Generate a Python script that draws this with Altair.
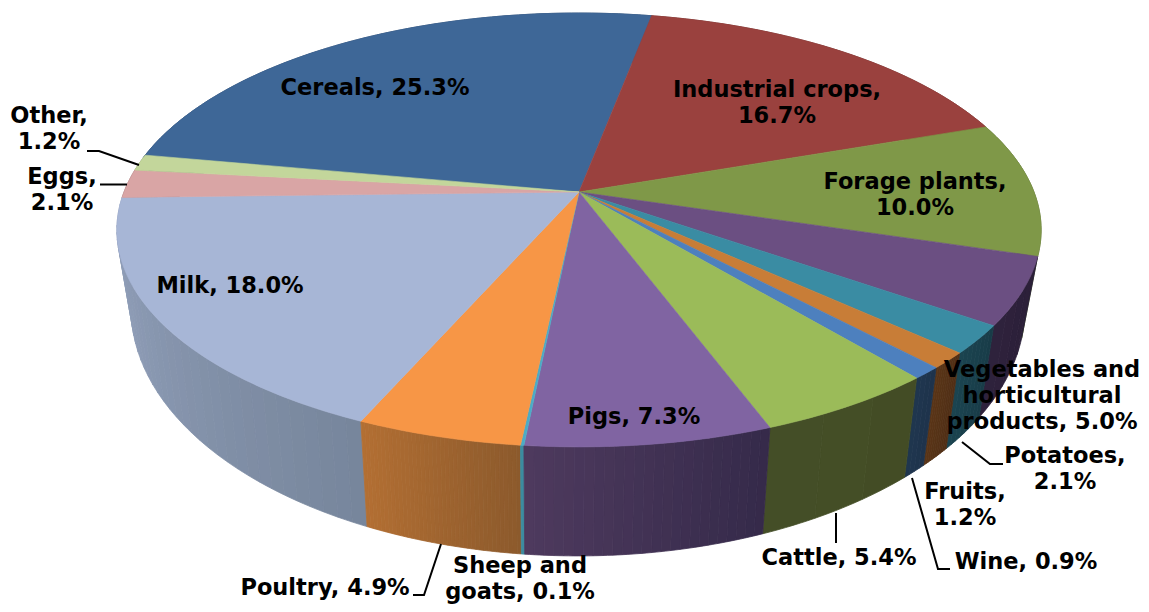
import math
import altair as alt

categories = ["Cereals", "Industrial crops", "Forage plants", "Vegetables and horticultural products",
              "Potatoes", "Fruits", "Wine", "Cattle", "Pigs", "Sheep and goats", "Poultry", "Milk", "Eggs", "Other"]
values = [25.3, 16.7, 10.0, 5.0, 2.1, 1.2, 0.9, 5.4, 7.3, 0.1, 4.9, 18.0, 2.1, 1.2]
top_colors = ["#3e6797", "#9a413e", "#7f9848", "#6b4f82", "#3a8ca3", "#c87d37", "#4d80be",
              "#9bbb59", "#8064a2", "#4bacc6", "#f79646", "#a7b6d6", "#d9a5a5", "#c3d69b"]
wall_left = ["#2c4a6e", "#6e2e2c", "#5a6c33", "#2f223c", "#1b4450", "#5a3517", "#1f364f",
             "#444f27", "#4e3a5e", "#3c8ca0", "#b36f33", "#96a4bf", "#9a7474", "#8a9a6e"]
wall_right = ["#2c4a6e", "#6e2e2c", "#5a6c33", "#2a1f38", "#183c48", "#4f2e15", "#1e334b",
              "#434c25", "#352a4a", "#3c8ca0", "#8c5a2c", "#77869c", "#9a7474", "#8a9a6e"]

label_texts = ["Cereals, 25.3%", "Industrial crops,\n16.7%", "Forage plants,\n10.0%",
               "Vegetables and\nhorticultural\nproducts, 5.0%", "Potatoes,\n2.1%", "Fruits,\n1.2%",
               "Wine, 0.9%", "Cattle, 5.4%", "Pigs, 7.3%", "Sheep and\ngoats, 0.1%",
               "Poultry, 4.9%", "Milk, 18.0%", "Eggs,\n2.1%", "Other,\n1.2%"]
label_x = [375, 777, 915, 1042, 1065, 965, 1026, 839, 634, 520, 325, 230, 62, 49]
label_y = [88, 90, 182, 370, 456, 492, 562, 558, 417, 566, 588, 286, 177, 116]

leader_names = ["Other", "Other", "Other", "Eggs", "Eggs", "Poultry", "Poultry", "Poultry",
                "Potatoes", "Potatoes", "Potatoes", "Wine", "Wine", "Wine", "Cattle", "Cattle"]
leader_x = [87, 99, 139, 100, 127, 413, 424, 441, 1003, 990, 962, 950, 938, 912, 836, 836]
leader_y = [151, 151, 165, 184.5, 184.5, 595, 595, 544, 464, 464, 442, 569, 569, 478, 513, 543]

START_DEG = -80.3
K = 0.175
TOP = (579, 192, 455, 210.3)
BOTTOM = (578, 265, 440, 240)
OFF = 8
TOTAL = 100.0  # the printed percentages are shares of 100 (their rounded sum is 100.2)


def rim(deg, frame):
    x0, y0, w, h = frame
    u, v = math.sin(math.radians(deg)), math.cos(math.radians(deg))
    d = 1 + K * v
    return [x0 + w * u / d, y0 - h * v / d]


def rgb(c):
    return [int(c[i:i + 2], 16) for i in (1, 3, 5)]


def mix(c1, c2, t):
    return "#%02x%02x%02x" % tuple(round(p + (q - p) * t) for p, q in zip(rgb(c1), rgb(c2)))


def feature(ring, color):
    return {"type": "Feature", "properties": {"color": color},
            "geometry": {"type": "Polygon", "coordinates": [ring + [ring[0]]]}}


def arc(a0, a1, frame):
    m = max(1, math.ceil(abs(a1 - a0)))
    return [rim(a0 + (a1 - a0) * i / m, frame) for i in range(m + 1)]


walls, tops = [], []
angle = START_DEG
for val, top_c, c_left, c_right in zip(values, top_colors, wall_left, wall_right):
    span = val / TOTAL * 360
    spread = max(abs(p - q) for p, q in zip(rgb(c_left), rgb(c_right)))
    n = max(1, spread)
    for i in range(n):
        a0, a1 = angle + span * i / n, angle + span * (i + 1) / n
        ring = arc(a0, a1, TOP) + arc(a1, a0, BOTTOM)
        walls.append((math.cos(math.radians((a0 + a1) / 2)),
                      feature(ring, mix(c_right, c_left, (i + .5) / n))))
    tops.append(feature([[TOP[0], TOP[1]]] + arc(angle, angle + span, TOP), top_c))
    angle += span

walls.sort(key=lambda t: -t[0])
wall_features = [f for _, f in walls]

projection = alt.Projection(type="identity", scale=1, translate=[-OFF, -OFF])


def shapes(features, sw):
    return alt.Chart(alt.Data(values=features)).mark_geoshape(
        strokeWidth=sw, opacity=1, fillOpacity=1, strokeOpacity=1
    ).encode(
        color=alt.Color("properties.color:N", scale=None),
        stroke=alt.Stroke("properties.color:N", scale=None),
    ).project(**projection.to_dict())


leaders = alt.Chart(alt.Data(values=[
    {"name": n, "x": x - OFF, "y": y - OFF, "i": i}
    for i, (n, x, y) in enumerate(zip(leader_names, leader_x, leader_y))
])).mark_line(color="black", strokeWidth=2).encode(
    x=alt.X("x:Q", scale=None), y=alt.Y("y:Q", scale=None),
    detail="name:N", order="i:Q",
)

labels = alt.Chart(alt.Data(values=[
    {"t": t, "x": x - OFF, "y": y - OFF} for t, x, y in zip(label_texts, label_x, label_y)
])).mark_text(font="DejaVu Sans", fontWeight="bold", fontSize=22.5, lineBreak="\n", lineHeight=26,
              align="center", baseline="middle", color="black").encode(
    x=alt.X("x:Q", scale=None), y=alt.Y("y:Q", scale=None), text="t:N",
)

chart = alt.layer(shapes(wall_features, 0.8), shapes(tops, 0.6), leaders, labels).properties(
    width=1133, height=596, padding=0, autosize=alt.AutoSizeParams(type="none"), background="white",
).configure_view(stroke=None).configure_axis(disable=True)

chart.save("out.html", embed_options={"renderer": "svg", "actions": False})
